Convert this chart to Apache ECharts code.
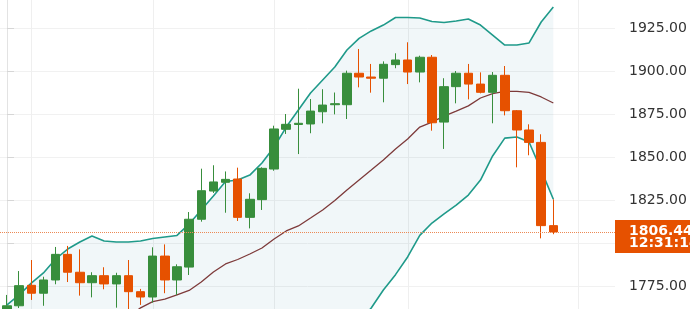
<!DOCTYPE html>
<html><head><meta charset="utf-8">
<script src="https://cdn.jsdelivr.net/npm/echarts@6/dist/echarts.min.js"></script>
<style>html,body{margin:0;padding:0;background:#fff}#c{width:690px;height:309px}</style>
</head><body><div id="c"></div>
<script>
const openP  = [1760.0,1763.5,1775.4,1770.8,1778.5,1793.4,1783.0,1776.9,1781.0,1776.2,1781.0,1771.7,1768.6,1792.4,1778.5,1786.0,1813.8,1830.2,1835.3,1837.2,1814.9,1825.2,1843.0,1866.1,1868.9,1869.2,1876.3,1880.4,1880.4,1898.7,1896.5,1895.8,1903.7,1906.4,1899.4,1908.0,1870.3,1890.9,1898.7,1892.4,1887.6,1897.5,1876.9,1865.7,1858.5,1810.1];
const closeP = [1763.5,1775.2,1770.8,1778.5,1793.4,1783.0,1776.9,1781.0,1776.2,1781.0,1771.7,1768.6,1792.4,1778.5,1786.2,1813.8,1830.4,1835.5,1837.0,1814.9,1825.4,1843.4,1866.3,1869.0,1869.6,1876.7,1880.2,1881.0,1898.7,1896.5,1895.8,1903.9,1906.4,1899.4,1908.0,1869.9,1890.9,1898.7,1892.4,1887.6,1897.5,1876.9,1865.7,1858.5,1810.1,1806.44];
const lowP   = [1757.0,1762.2,1766.9,1763.5,1776.0,1777.3,1769.4,1768.4,1773.1,1762.4,1759.9,1764.0,1765.3,1770.8,1769.8,1781.4,1812.4,1829.1,1817.6,1812.8,1808.5,1819.2,1842.0,1863.4,1851.7,1863.8,1869.6,1874.8,1872.1,1890.5,1887.4,1881.8,1901.6,1892.4,1893.4,1865.3,1854.7,1881.2,1883.5,1887.0,1869.6,1874.2,1844.0,1851.0,1802.7,1805.1];
const highP  = [1769.8,1783.7,1790.1,1780.4,1797.7,1798.3,1796.3,1783.0,1785.9,1782.7,1790.1,1773.3,1797.5,1799.2,1787.6,1818.0,1843.2,1845.2,1841.6,1843.8,1828.9,1844.0,1868.2,1875.0,1889.7,1883.7,1889.4,1887.5,1900.2,1912.8,1904.1,1905.6,1910.3,1916.7,1908.9,1909.3,1895.8,1900.0,1904.1,1899.2,1899.4,1902.9,1877.3,1869.0,1863.2,1825.4];
const upperBand  = [1764.0,1769.8,1776.7,1782.6,1790.7,1796.5,1800.6,1804.1,1801.2,1800.6,1800.6,1801.2,1802.6,1803.5,1804.4,1811.0,1819.2,1827.3,1835.8,1836.6,1839.5,1846.5,1855.8,1867.4,1877.3,1887.2,1894.8,1902.3,1912.2,1919.0,1923.3,1926.7,1931.1,1931.1,1930.8,1928.8,1928.2,1929.1,1930.2,1926.7,1920.9,1915.1,1915.1,1916.3,1928.5,1937.2];
const middleBand = [1741.0,1742.5,1744.0,1745.5,1747.0,1748.5,1750.0,1751.5,1753.0,1755.0,1757.0,1762.3,1765.9,1767.4,1769.8,1772.4,1777.3,1783.1,1787.8,1790.4,1793.6,1797.1,1802.3,1807.0,1809.9,1814.5,1819.2,1824.7,1830.8,1836.6,1842.4,1848.3,1854.7,1860.5,1867.4,1870.3,1873.8,1876.7,1879.7,1884.3,1886.9,1888.1,1888.1,1887.6,1884.9,1881.4];
const lowerBand  = [1718,1715,1711,1708,1703,1700,1699,1699,1705,1709,1713,1723,1729,1731,1735,1734,1735,1739,1740,1744,1748,1748,1749,1747,1743,1742,1744,1747,1749,1754,1762.2,1772.7,1781.6,1791.9,1804.4,1811.6,1816.9,1822.0,1827.9,1836.6,1850.6,1861.0,1861.6,1858.7,1842.4,1825.4];
const sessionBreaks = [2, 12, 22, 33, 47];
const lastPrice = 1806.44;
const countdown = '12:31:14';
const yMin = 1750, yMax = 1950, yStep = 25;

const UP = '#388e3c', DOWN = '#e65100';
const chart = echarts.init(document.getElementById('c'), null, {renderer: 'canvas'});
const candleData = openP.map((o, i) => [i, o, closeP[i], lowP[i], highP[i]]);
const pair = arr => arr.map((v, i) => [i, v]);

chart.setOption({
  animation: false,
  grid: {left: 0, right: 75, top: -15, bottom: -20, containLabel: false, outerBoundsMode: 'none'},
  xAxis: {type: 'value', min: -0.577, max: 50.08, show: false, splitLine: {show: false}},
  yAxis: {
    type: 'value', position: 'right', min: yMin, max: yMax, interval: yStep, scale: true,
    axisLine: {show: true, lineStyle: {color: '#e3e3e3'}},
    axisTick: {show: true, length: 7, lineStyle: {color: '#d6d6d6'}},
    axisLabel: {margin: 14, color: '#333', fontFamily: 'DejaVu Sans', fontSize: 14, formatter: v => v.toFixed(2)},
    splitLine: {show: true, lineStyle: {color: '#f1f1f1'}}
  },
  series: [
    {
      type: 'custom', z: 1, silent: true, data: [[0, 1800]], encode: {x: 0, y: 1},
      renderItem: function (params, api) {
        const children = [];
        sessionBreaks.forEach(x => {
          const a = api.coord([x, yMax]), b = api.coord([x, yMin]);
          const px = Math.round(a[0]) + 0.5;
          children.push({type: 'line', shape: {x1: px, y1: a[1], x2: px, y2: b[1]}, style: {stroke: '#efefef', lineWidth: 1}});
        });
        const pts = [];
        for (let i = 0; i < upperBand.length; i++) pts.push(api.coord([i, upperBand[i]]));
        for (let i = lowerBand.length - 1; i >= 0; i--) pts.push(api.coord([i, lowerBand[i]]));
        children.push({type: 'polygon', shape: {points: pts}, style: {fill: 'rgba(0,110,140,0.055)'}});
        return {type: 'group', children};
      }
    },
    {type: 'line', z: 2, data: pair(upperBand), symbol: 'none', lineStyle: {color: '#1f9a8a', width: 1.6}},
    {type: 'line', z: 2, data: pair(lowerBand), symbol: 'none', lineStyle: {color: '#1f9a8a', width: 1.6}},
    {type: 'line', z: 2, data: pair(middleBand), symbol: 'none', lineStyle: {color: '#7d3a3a', width: 1.3}},
    {
      type: 'candlestick', z: 3, data: candleData, encode: {x: 0, y: [1, 2, 3, 4]}, barWidth: 9,
      itemStyle: {color: UP, color0: DOWN, borderColor: UP, borderColor0: DOWN, borderWidth: 1},
      markLine: {
        silent: true, symbol: 'none', label: {show: false},
        lineStyle: {color: '#ec8a55', type: 'dotted', width: 1},
        data: [{yAxis: lastPrice}]
      }
    }
  ]
});

const py = chart.convertToPixel({yAxisIndex: 0}, lastPrice);
chart.setOption({
  graphic: [{
    type: 'text', x: 615, y: py - 12, z: 100,
    style: {
      text: '{p|' + lastPrice.toFixed(2) + '}\n{t|' + countdown + '}',
      backgroundColor: DOWN, padding: [5, 12, 4, 14],
      rich: {
        p: {fill: '#fff', fontFamily: 'DejaVu Sans', fontWeight: 'bold', fontSize: 14, lineHeight: 12},
        t: {fill: '#fff', fontFamily: 'DejaVu Sans', fontWeight: 'bold', fontSize: 14, lineHeight: 12}
      }
    }
  }]
});
</script>
</body></html>
